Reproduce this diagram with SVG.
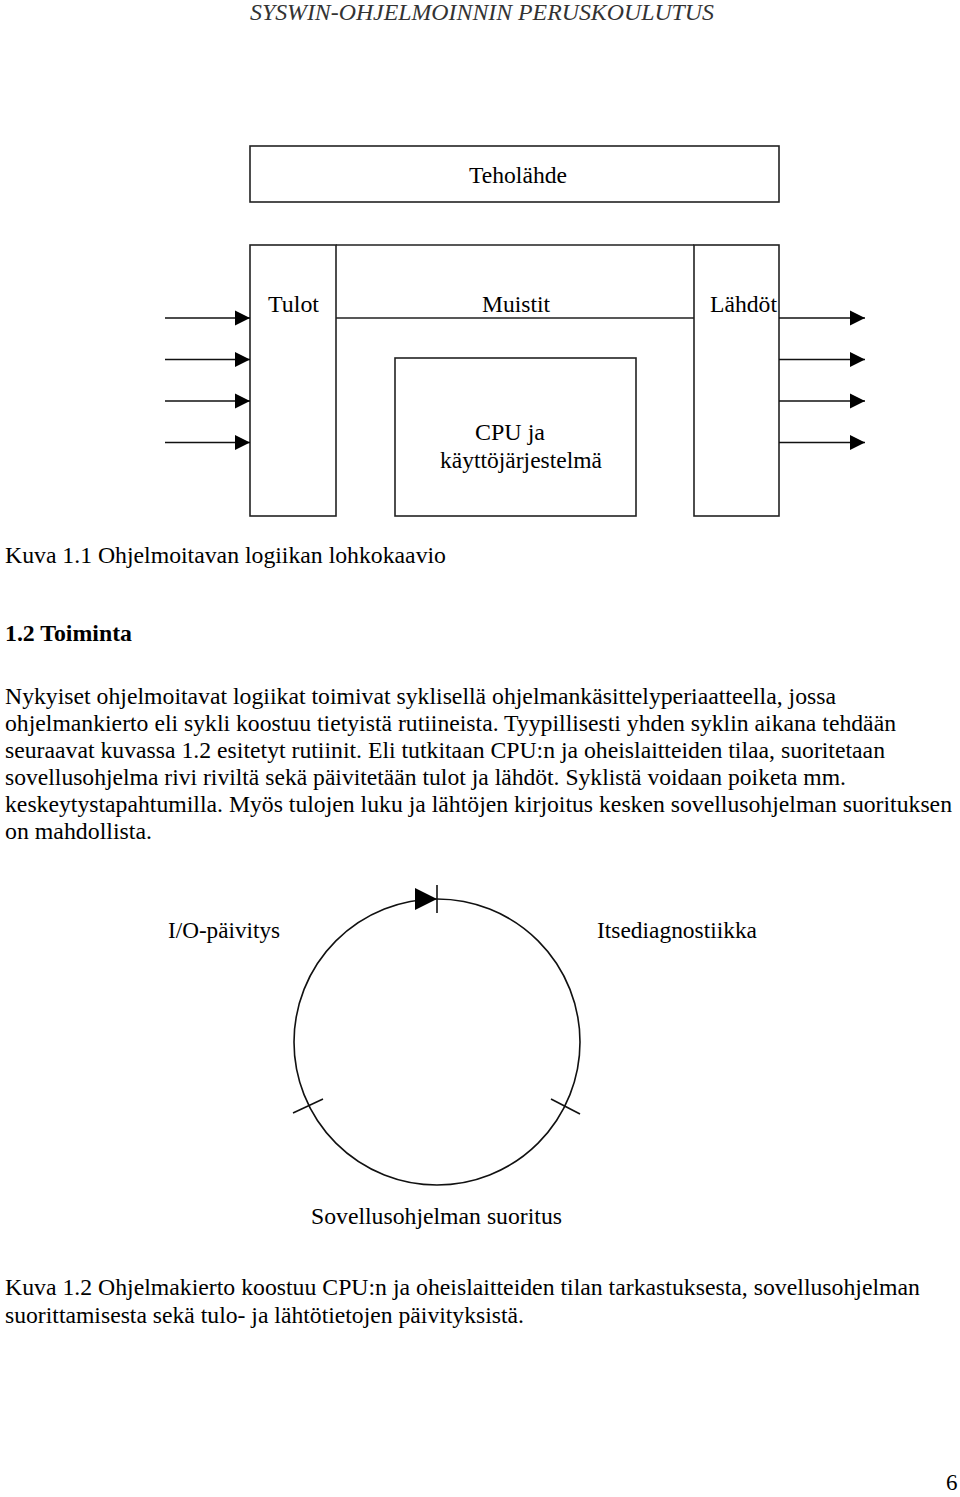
<svg xmlns="http://www.w3.org/2000/svg" width="960" height="1497" viewBox="0 0 960 1497">
<style>
text{font-family:"Liberation Serif","Times New Roman",serif;font-size:23px;fill:#000}
.box{fill:none;stroke:#222;stroke-width:1.6}
.ln{fill:none;stroke:#111;stroke-width:1.6}
.hdr{font-style:italic;fill:#333;font-size:23px}
.c{text-anchor:middle}
.cap{font-size:24px}
</style>
<defs>
<marker id="ah" markerUnits="userSpaceOnUse" markerWidth="16" markerHeight="16" viewBox="0 0 16 16" refX="15" refY="8" orient="auto">
<path d="M0,0.5 L15,8 L0,15.5 Z" fill="#000"/>
</marker>
</defs>

<text class="hdr c" x="482" y="20" textLength="464" lengthAdjust="spacingAndGlyphs">SYSWIN-OHJELMOINNIN PERUSKOULUTUS</text>

<g id="teholahde">
<rect class="box" x="250" y="146" width="529" height="56"/>
<text class="c" x="518" y="183" textLength="98" lengthAdjust="spacingAndGlyphs">Teholähde</text>
</g>

<g id="tulot">
<rect class="box" x="250" y="245" width="86" height="271"/>
<text class="c" x="293.5" y="312" textLength="51" lengthAdjust="spacingAndGlyphs">Tulot</text>
</g>

<g id="muistit">
<path class="box" d="M336,245 H694 M336,318 H694"/>
<text class="c" x="516" y="312" textLength="68" lengthAdjust="spacingAndGlyphs">Muistit</text>
</g>

<g id="lahdot">
<rect class="box" x="694" y="245" width="85" height="271"/>
<text class="c" x="743.5" y="312" textLength="67" lengthAdjust="spacingAndGlyphs">Lähdöt</text>
</g>

<g id="cpu">
<rect class="box" x="395" y="358" width="241" height="158"/>
<text x="475" y="440" textLength="70" lengthAdjust="spacingAndGlyphs">CPU ja</text>
<text x="440" y="468" textLength="162" lengthAdjust="spacingAndGlyphs">käyttöjärjestelmä</text>
</g>

<g id="connectors">
<path class="ln" d="M165,318 H250" marker-end="url(#ah)"/>
<path class="ln" d="M165,359.5 H250" marker-end="url(#ah)"/>
<path class="ln" d="M165,401 H250" marker-end="url(#ah)"/>
<path class="ln" d="M165,442.5 H250" marker-end="url(#ah)"/>
<path class="ln" d="M779,318 H865" marker-end="url(#ah)"/>
<path class="ln" d="M779,359.5 H865" marker-end="url(#ah)"/>
<path class="ln" d="M779,401 H865" marker-end="url(#ah)"/>
<path class="ln" d="M779,442.5 H865" marker-end="url(#ah)"/>
</g>

<text x="5" y="563" textLength="441" lengthAdjust="spacingAndGlyphs">Kuva 1.1 Ohjelmoitavan logiikan lohkokaavio</text>
<text x="5" y="641" font-weight="bold" textLength="127" lengthAdjust="spacingAndGlyphs">1.2 Toiminta</text>

<text x="5" y="704" textLength="831" lengthAdjust="spacingAndGlyphs">Nykyiset ohjelmoitavat logiikat toimivat syklisellä ohjelmankäsittelyperiaatteella, jossa</text>
<text x="5" y="731" textLength="891" lengthAdjust="spacingAndGlyphs">ohjelmankierto eli sykli koostuu tietyistä rutiineista. Tyypillisesti yhden syklin aikana tehdään</text>
<text x="5" y="758" textLength="880" lengthAdjust="spacingAndGlyphs">seuraavat kuvassa 1.2 esitetyt rutiinit. Eli tutkitaan CPU:n ja oheislaitteiden tilaa, suoritetaan</text>
<text x="5" y="785" textLength="841" lengthAdjust="spacingAndGlyphs">sovellusohjelma rivi riviltä sekä päivitetään tulot ja lähdöt. Syklistä voidaan poiketa mm.</text>
<text x="5" y="812" textLength="947" lengthAdjust="spacingAndGlyphs">keskeytystapahtumilla. Myös tulojen luku ja lähtöjen kirjoitus kesken sovellusohjelman suorituksen</text>
<text x="5" y="839" textLength="147" lengthAdjust="spacingAndGlyphs">on mahdollista.</text>

<g id="cycle">
<circle class="ln" cx="437" cy="1042" r="143"/>
<path d="M415,888 L437,899 L415,910 Z" fill="#000"/>
<path class="ln" d="M437,885 V913"/>
<path class="ln" d="M293,1113 L323,1099"/>
<path class="ln" d="M551,1099 L580,1114"/>
</g>

<g id="io"><text class="c" x="224" y="938" textLength="112" lengthAdjust="spacingAndGlyphs">I/O-päivitys</text></g>
<g id="diag"><text class="c" x="677" y="938" textLength="160" lengthAdjust="spacingAndGlyphs">Itsediagnostiikka</text></g>
<g id="sov"><text class="c" x="436.5" y="1224" textLength="251" lengthAdjust="spacingAndGlyphs">Sovellusohjelman suoritus</text></g>

<text class="cap" x="5" y="1295" textLength="915" lengthAdjust="spacingAndGlyphs">Kuva 1.2 Ohjelmakierto koostuu CPU:n ja oheislaitteiden tilan tarkastuksesta, sovellusohjelman</text>
<text class="cap" x="5" y="1323" textLength="519" lengthAdjust="spacingAndGlyphs">suorittamisesta sekä tulo- ja lähtötietojen päivityksistä.</text>

<text x="946" y="1490">6</text>
</svg>
